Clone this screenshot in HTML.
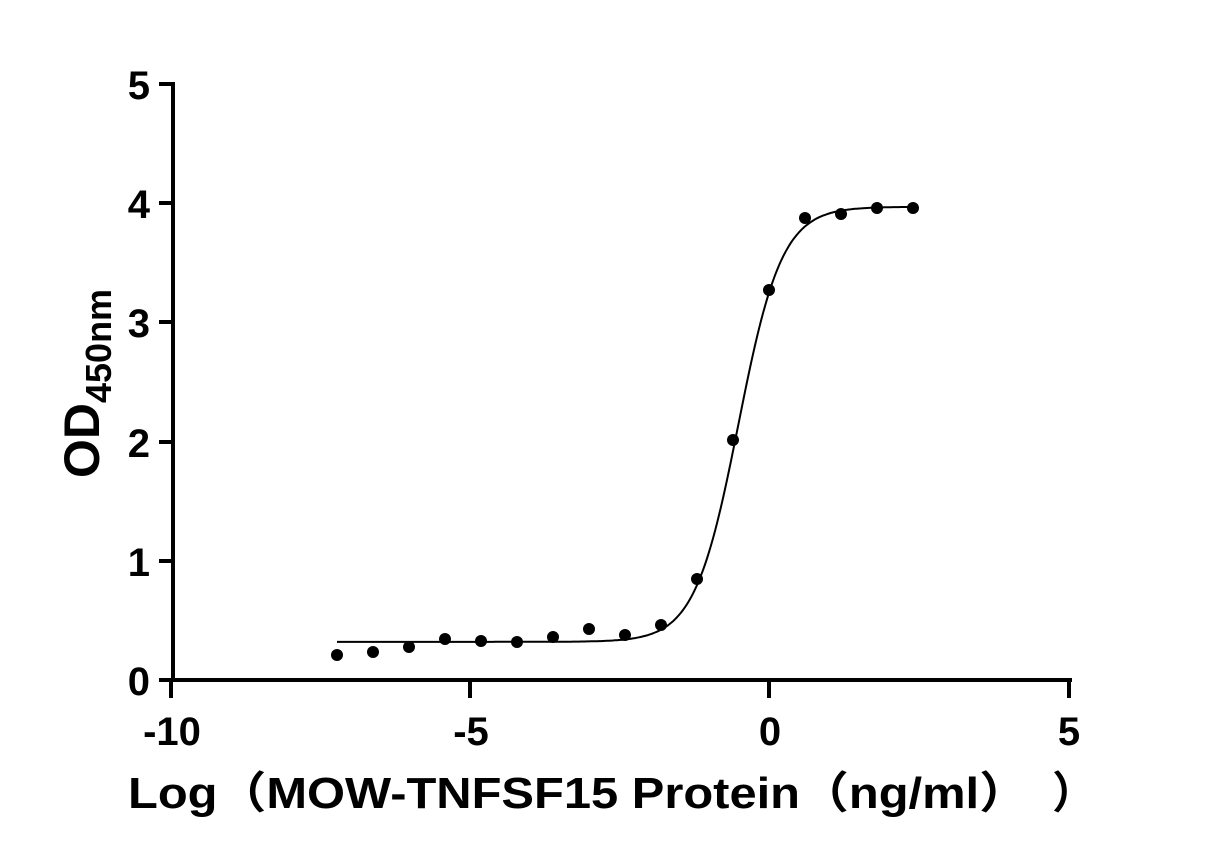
<!DOCTYPE html>
<html><head><meta charset="utf-8"><style>
html,body{margin:0;padding:0;background:#fff;}
svg text{font-family:"Liberation Sans","Noto Sans CJK SC",sans-serif;font-weight:bold;fill:#000;}
</style></head><body>
<svg id="s" width="1206" height="863" xmlns="http://www.w3.org/2000/svg">
<g stroke="#000" stroke-width="4" fill="none">
<line x1="173" y1="82" x2="173" y2="682"/>
<line x1="171" y1="680" x2="1072" y2="680"/>
<line x1="159" y1="84" x2="173" y2="84"/>
<line x1="159" y1="203" x2="173" y2="203"/>
<line x1="159" y1="322" x2="173" y2="322"/>
<line x1="159" y1="442" x2="173" y2="442"/>
<line x1="159" y1="561" x2="173" y2="561"/>
<line x1="159" y1="680" x2="173" y2="680"/>
<line x1="171" y1="680" x2="171" y2="698"/>
<line x1="470" y1="680" x2="470" y2="698"/>
<line x1="769" y1="680" x2="769" y2="698"/>
<line x1="1069" y1="680" x2="1069" y2="698"/>
</g>
<g font-size="40" text-anchor="end">
<text x="150" y="99">5</text><text x="150" y="218">4</text><text x="150" y="337">3</text>
<text x="150" y="457">2</text><text x="150" y="576">1</text><text x="150" y="695">0</text>
</g>
<g font-size="40" text-anchor="middle">
<text x="172" y="745">-10</text><text x="471" y="745">-5</text><text x="770" y="745">0</text><text x="1069" y="745">5</text>
</g>
<text x="128" y="808" font-size="44" textLength="900" lengthAdjust="spacingAndGlyphs">Log（MOW-TNFSF15 Protein（ng/ml）</text>
<text x="1052" y="808" font-size="44">）</text>
<text transform="translate(99,478) rotate(-90)" font-size="50">OD<tspan font-size="36" dy="12">450nm</tspan></text>
<path id="c" fill="none" stroke="#000" stroke-width="2"/>
<g fill="#000">
<circle cx="337" cy="655" r="6"/><circle cx="373" cy="652" r="6"/><circle cx="409" cy="647" r="6"/>
<circle cx="445" cy="639" r="6"/><circle cx="481" cy="641" r="6"/><circle cx="517" cy="642" r="6"/>
<circle cx="553" cy="637" r="6"/><circle cx="589" cy="629" r="6"/><circle cx="625" cy="635" r="6"/>
<circle cx="661" cy="625" r="6"/><circle cx="697" cy="579" r="6"/><circle cx="733" cy="440" r="6"/>
<circle cx="769" cy="290" r="6"/><circle cx="805" cy="218" r="6"/><circle cx="841" cy="214" r="6"/>
<circle cx="877" cy="208" r="6"/><circle cx="913" cy="208" r="6"/>
</g>
</svg>
<script>
var d="";for(var px=337;px<=913;px+=2){var x=(px-771)/59.8;var v=0.32+3.65/(1+Math.pow(10,(-0.545-x)*1.19));var py=680-v*119.2;d+=(d?"L":"M")+px+","+py.toFixed(1);}
document.getElementById("c").setAttribute("d",d);
</script>
</body></html>
